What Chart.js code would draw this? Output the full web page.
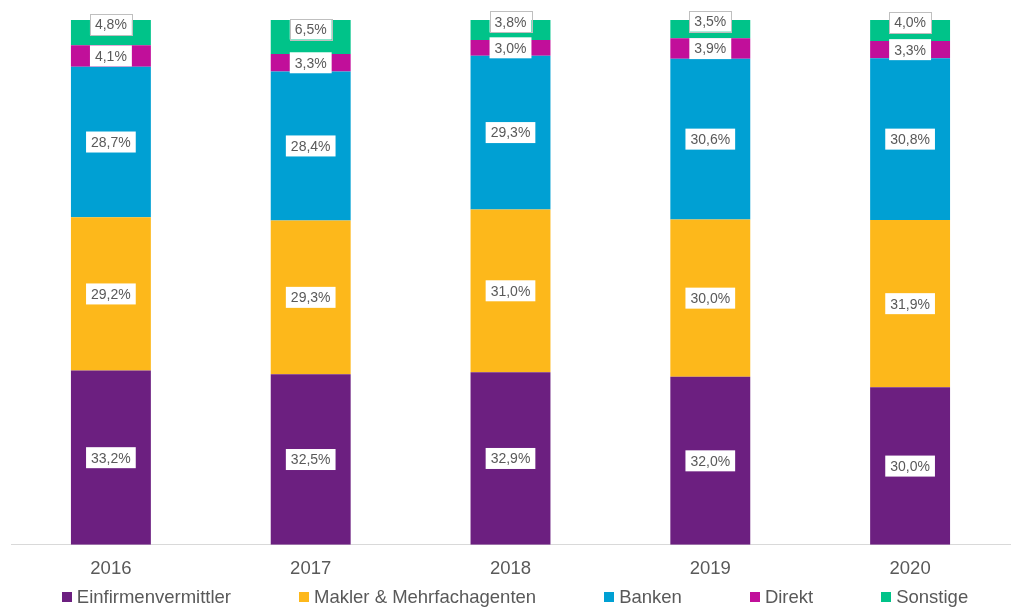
<!DOCTYPE html>
<html>
<head>
<meta charset="utf-8">
<script src="https://cdn.jsdelivr.net/npm/chart.js@4.4.1/dist/chart.umd.min.js"></script>
<style>
  html, body { margin: 0; padding: 0; background: #fff; }
  .wrap { position: relative; width: 1015px; height: 608px; }
  .legend {
    position: absolute; left: 15px; right: 0; top: 586px;
    display: flex; justify-content: center; gap: 68px;
    font-family: 'Liberation Sans', Arial, sans-serif; font-size: 18.5px; color: #595959;
    line-height: 22px;
  }
  .legend span.item { display: flex; align-items: center; white-space: nowrap; }
  .legend i { display: inline-block; width: 10px; height: 10px; margin-right: 5px; }
</style>
</head>
<body>
<div class="wrap">
  <canvas id="chart" width="1015" height="608"></canvas>
  <div class="legend" id="legend"></div>
</div>
<script>
// Jahre
const years = ['2016', '2017', '2018', '2019', '2020'];

// Anteile in %
const einfirmen = [33.2, 32.5, 32.9, 32.0, 30.0];
const makler = [29.2, 29.3, 31.0, 30.0, 31.9];
const banken = [28.7, 28.4, 29.3, 30.6, 30.8];
const direkt = [4.1, 3.3, 3.0, 3.9, 3.3];
const sonstige = [4.8, 6.5, 3.8, 3.5, 4.0];

const seriesNames = ['Einfirmenvermittler', 'Makler & Mehrfachagenten', 'Banken', 'Direkt', 'Sonstige'];
const seriesColors = ['#6c1f80', '#fdb81b', '#00a0d3', '#c10f9a', '#00c389'];
const seriesData = [einfirmen, makler, banken, direkt, sonstige];

const fontFamily = "'Liberation Sans', Arial, sans-serif";

// weisse Kästchen mit Prozentwerten
const labelPlugin = {
  id: 'boxLabels',
  afterDatasetsDraw(chart) {
    const ctx = chart.ctx;
    ctx.save();
    ctx.font = '14px ' + fontFamily;
    ctx.textAlign = 'center';
    ctx.textBaseline = 'middle';
    chart.data.datasets.forEach((ds, i) => {
      const meta = chart.getDatasetMeta(i);
      meta.data.forEach((bar, j) => {
        const txt = ds.data[j].toFixed(1).replace('.', ',') + '%';
        const w = ctx.measureText(txt).width + 10;
        const h = 21;
        let y = (bar.y + bar.base) / 2;
        const isTop = i === chart.data.datasets.length - 1;
        if (isTop) y -= 8;
        ctx.fillStyle = '#ffffff';
        ctx.fillRect(bar.x - w / 2, y - h / 2, w, h);
        if (isTop) {
          ctx.strokeStyle = '#bfbfbf';
          ctx.lineWidth = 1;
          ctx.strokeRect(Math.round(bar.x - w / 2) + 0.5, Math.round(y - h / 2) + 0.5, Math.round(w), h);
        }
        ctx.fillStyle = '#595959';
        ctx.fillText(txt, bar.x, y + 1);
      });
    });
    ctx.restore();
  }
};

const chart = new Chart(document.getElementById('chart').getContext('2d'), {
  type: 'bar',
  data: {
    labels: years,
    datasets: seriesNames.map((name, i) => ({
      label: name,
      data: seriesData[i],
      backgroundColor: seriesColors[i],
      borderWidth: 0,
      barPercentage: 0.4,
      categoryPercentage: 1,
    })),
  },
  options: {
    responsive: false,
    animation: false,
    layout: { padding: { left: 11, right: 5, top: 20, bottom: 15 } },
    plugins: {
      legend: { display: false },
      tooltip: { enabled: false },
    },
    scales: {
      x: {
        stacked: true,
        grid: { display: false, drawTicks: false },
        border: { display: true, color: '#d9d9d9', width: 1 },
        ticks: { color: '#595959', font: { family: fontFamily, size: 18.5 }, padding: 13 },
      },
      y: {
        stacked: true,
        display: false,
        min: 0,
        max: 100,
      },
    },
  },
  plugins: [labelPlugin],
});

// Legende
const legendEl = document.getElementById('legend');
seriesNames.forEach((name, i) => {
  const item = document.createElement('span');
  item.className = 'item';
  item.innerHTML = '<i style="background:' + seriesColors[i] + '"></i>' + name;
  legendEl.appendChild(item);
});
</script>
</body>
</html>
